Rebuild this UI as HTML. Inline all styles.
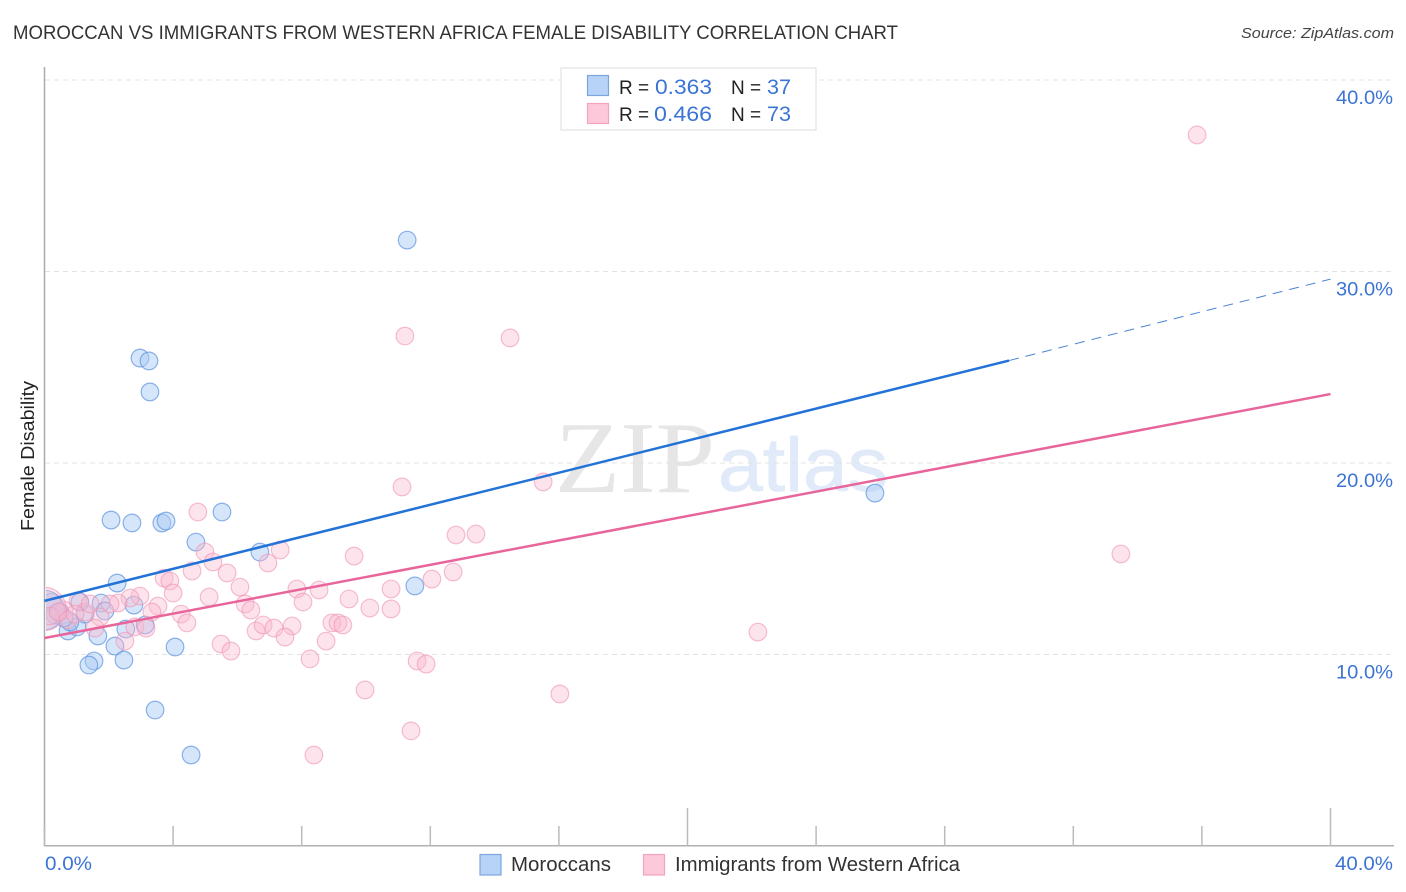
<!DOCTYPE html>
<html lang="en">
<head>
<meta charset="utf-8">
<title>Moroccan vs Immigrants from Western Africa Female Disability Correlation Chart</title>
<style>
html,body{margin:0;padding:0;background:#fff;width:1406px;height:892px;overflow:hidden}
svg{display:block;font-family:"Liberation Sans",sans-serif}
</style>
</head>
<body>
<svg id="chart" xmlns="http://www.w3.org/2000/svg" width="1406" height="892" viewBox="0 0 1406 892">
  <defs><clipPath id="plot-clip"><rect x="46" y="60" width="1348" height="786"/></clipPath></defs>
  <text x="13" y="39" font-size="19" fill="#333" textLength="885" lengthAdjust="spacingAndGlyphs">MOROCCAN VS IMMIGRANTS FROM WESTERN AFRICA FEMALE DISABILITY CORRELATION CHART</text>
  <text x="1394" y="38" font-size="15" font-style="italic" fill="#444" text-anchor="end" textLength="153" lengthAdjust="spacingAndGlyphs">Source: ZipAtlas.com</text>
  <g>
    <text x="555" y="492" font-family="'Liberation Serif',serif" font-size="102" fill="#e6e6e6" textLength="160" lengthAdjust="spacingAndGlyphs">ZIP</text>
    <text x="718" y="491" font-size="76" fill="#e0eaf9" stroke="#e0eaf9" stroke-width="0.8" textLength="170" lengthAdjust="spacingAndGlyphs">atlas</text>
  </g>
  <g id="grid"></g>
  <g id="marks" clip-path="url(#plot-clip)"></g>
  <rect x="30" y="575" width="15.5" height="70" fill="#fff"/>
  <g id="axes"></g>
  <g id="trends"></g>
  <text transform="translate(34,456) rotate(-90)" font-size="18" fill="#222" text-anchor="middle" textLength="150" lengthAdjust="spacingAndGlyphs">Female Disability</text>

  <g>
    <rect x="561" y="68" width="255" height="62" fill="#fff" stroke="#e2e2e2" stroke-width="1.2"/>
    <rect x="587.5" y="75.5" width="21" height="20" fill="#b7d3f7" stroke="#7ba7dd" stroke-width="1.2"/>
    <rect x="587.5" y="103.5" width="21" height="20" fill="#fcc8da" stroke="#f2a3bd" stroke-width="1.2"/>
    <text x="619" y="94" font-size="19" fill="#222">R =</text>
    <text x="655" y="94" font-size="21" fill="#3b74d4" textLength="57" lengthAdjust="spacingAndGlyphs">0.363</text>
    <text x="731" y="94" font-size="19" fill="#222">N =</text>
    <text x="767" y="94" font-size="21" fill="#3b74d4" textLength="24" lengthAdjust="spacingAndGlyphs">37</text>
    <text x="619" y="121" font-size="19" fill="#222">R =</text>
    <text x="654" y="121" font-size="21" fill="#3b74d4" textLength="58" lengthAdjust="spacingAndGlyphs">0.466</text>
    <text x="731" y="121" font-size="19" fill="#222">N =</text>
    <text x="767" y="121" font-size="21" fill="#3b74d4" textLength="24" lengthAdjust="spacingAndGlyphs">73</text>
  </g>

  <g>
    <rect x="480" y="854.5" width="21" height="20.5" fill="#b7d3f7" stroke="#7ba7dd" stroke-width="1.2"/>
    <text x="511" y="871" font-size="20" fill="#333" textLength="100" lengthAdjust="spacingAndGlyphs">Moroccans</text>
    <rect x="643.5" y="854.5" width="21" height="20.5" fill="#fcc8da" stroke="#f2a3bd" stroke-width="1.2"/>
    <text x="675" y="871" font-size="20" fill="#333" textLength="285" lengthAdjust="spacingAndGlyphs">Immigrants from Western Africa</text>
  </g>
</svg>
<script>
const blueX = [11.28,2.97,3.25,3.28,25.83,2.07,2.72,3.65,3.78,5.52,4.71,6.70,2.26,11.52,2.78,1.76,1.88,3.13,2.53,2.19,4.06,1.66,2.47,1.54,1.38,3.44,4.56,0.73,1.01,1.26,1.10,0.33,0.23,0.48,0.79,0.61,0];
const blueY = [31.64,25.48,25.33,23.71,18.43,17.02,16.87,16.87,16.97,17.44,15.87,15.35,13.73,13.58,12.58,12.69,12.27,11.54,11.33,10.44,10.39,10.97,9.71,9.66,9.45,7.10,4.75,11.23,11.44,12.11,12.74,12.06,12.74,12.22,11.70,11.91,12.32];
const blueWeight = [1,1,1,1,1,1,1,1,1,1,1,1,1,1,1,1,1,1,1,1,1,1,1,1,1,1,1,1,1,1,1,1,1,1,1,1,5];
const pinkX = [35.85,11.21,14.48,11.12,15.51,4.77,4.99,5.24,7.33,6.95,9.63,5.68,4.59,3.72,3.90,4.00,6.08,7.85,8.54,8.04,9.47,6.24,6.42,5.12,3.53,3.34,4.25,4.43,2.97,2.66,2.29,2.04,1.04,0.61,1.73,1.26,1.57,2.50,2.81,3.16,5.49,5.80,6.58,6.80,7.14,7.70,7.48,8.94,9.13,9.28,8.76,8.26,10.12,10.78,10.78,12.05,12.71,12.80,13.42,11.59,11.87,9.97,16.03,11.40,8.38,22.19,33.48,0,0.17,0.42,0.73,0.95,1.42];
const pinkY = [37.13,26.63,26.53,18.75,19.01,17.44,15.35,14.83,15.46,14.78,15.14,14.26,14.36,13.99,13.84,13.21,13.52,13.42,13.37,12.74,12.90,12.64,12.32,13.00,12.53,12.22,12.11,11.65,13.05,12.95,12.69,12.64,12.79,12.32,11.96,12.22,11.38,10.70,11.44,11.38,10.55,10.18,11.23,11.54,11.38,11.49,10.91,11.65,11.65,11.54,10.70,9.77,12.43,13.42,12.38,13.94,14.31,16.24,16.29,9.66,9.50,8.15,7.94,6.01,4.75,11.17,15.25,12.38,12.01,12.22,11.80,12.11,12.64];
const pinkWeight = [1,1,1,1,1,1,1,1,1,1,1,1,1,1,1,1,1,1,1,1,1,1,1,1,1,1,1,1,1,1,1,1,1,1,1,1,1,1,1,1,1,1,1,1,1,1,1,1,1,1,1,1,1,1,1,1,1,1,1,1,1,1,1,1,1,1,1,6,1,1,1,1,1];
const yGridValues = [10,20,30,40];
const yTickLabels = ["10.0%","20.0%","30.0%","40.0%"];
const xTickValues = [0,4,8,12,16,20,24,28,32,36,40];
const xMajorValues = [20,40];
const xEndValues = [0,40];
const xEndLabels = ["0.0%","40.0%"];
const blueTrendX = [0,30,40];
const blueTrendY = [12.8,25.35,29.6];
const pinkTrendX = [0,40];
const pinkTrendY = [10.86,23.6];

const NS = "http://www.w3.org/2000/svg";
const xScale = v => 44.5 + v * 32.15;
const yScale = v => 846 - v * 19.15;
const rScale = w => 8.8 * Math.sqrt(w);
function make(tag, attrs, parent) {
  const el = document.createElementNS(NS, tag);
  for (const k in attrs) el.setAttribute(k, attrs[k]);
  parent.appendChild(el);
  return el;
}
const grid = document.getElementById("grid");
const axes = document.getElementById("axes");
const marks = document.getElementById("marks");
const trends = document.getElementById("trends");

yGridValues.forEach((v, i) => {
  const line = make("line", {x1: 45, x2: 1394, y1: yScale(v), y2: yScale(v), stroke: "#e3e3e3", "stroke-width": 1, "stroke-dasharray": "5 4"}, grid);
  
  
  const label = make("text", {x: 1393, y: yScale(v) + 24, "font-size": 19.5, fill: "#3b74d4", "text-anchor": "end", textLength: 57, lengthAdjust: "spacingAndGlyphs"}, axes);
  label.textContent = yTickLabels[i];
  
  
});

const leftAxis = make("line", {x1: 44.5, x2: 44.5, y1: 67, y2: 846, stroke: "#aaa", "stroke-width": 1.5}, axes);


const bottomAxis = make("line", {x1: 44, x2: 1394, y1: 845.8, y2: 845.8, stroke: "#b0b0b0", "stroke-width": 1.5}, axes);


xTickValues.forEach(v => {
  const top = xMajorValues.includes(v) ? 808 : 826;
  const tick = make("line", {x1: xScale(v), x2: xScale(v), y1: top, y2: 846, stroke: "#bbb", "stroke-width": 1.5}, axes);
  
  
});
xEndValues.forEach((v, i) => {
  const isLeft = i === 0;
  const label = make("text", {x: isLeft ? xScale(v) + 0.5 : 1393, y: 870, "font-size": 19.5, fill: "#3b74d4", "text-anchor": isLeft ? "start" : "end", textLength: isLeft ? 47 : 58, lengthAdjust: "spacingAndGlyphs"}, axes);
  label.textContent = xEndLabels[i];
  
  
});

blueX.forEach((v, i) => {
  const dot = make("circle", {cx: xScale(v), cy: yScale(blueY[i]), r: rScale(blueWeight[i]), fill: "#a9cbf5", "fill-opacity": 0.48, stroke: "#5c93de", "stroke-opacity": 0.7, "stroke-width": 1.2}, marks);
  
  
});
pinkX.forEach((v, i) => {
  const dot = make("circle", {cx: xScale(v), cy: yScale(pinkY[i]), r: rScale(pinkWeight[i]), fill: "#f9b9cf", "fill-opacity": 0.4, stroke: "#ef94b4", "stroke-opacity": 0.6, "stroke-width": 1.2}, marks);
  
  
});

const blueSolid = make("line", {x1: xScale(blueTrendX[0]), y1: yScale(blueTrendY[0]), x2: xScale(blueTrendX[1]), y2: yScale(blueTrendY[1]), stroke: "#2272d8", "stroke-width": 2.5}, trends);


const blueDash = make("line", {x1: xScale(blueTrendX[1]), y1: yScale(blueTrendY[1]), x2: xScale(blueTrendX[2]), y2: yScale(blueTrendY[2]), stroke: "#4b84d6", "stroke-width": 1, "stroke-dasharray": "10 7"}, trends);


const pinkSolid = make("line", {x1: xScale(pinkTrendX[0]), y1: yScale(pinkTrendY[0]), x2: xScale(pinkTrendX[1]), y2: yScale(pinkTrendY[1]), stroke: "#e8659b", "stroke-width": 2.5}, trends);


</script>
</body>
</html>
